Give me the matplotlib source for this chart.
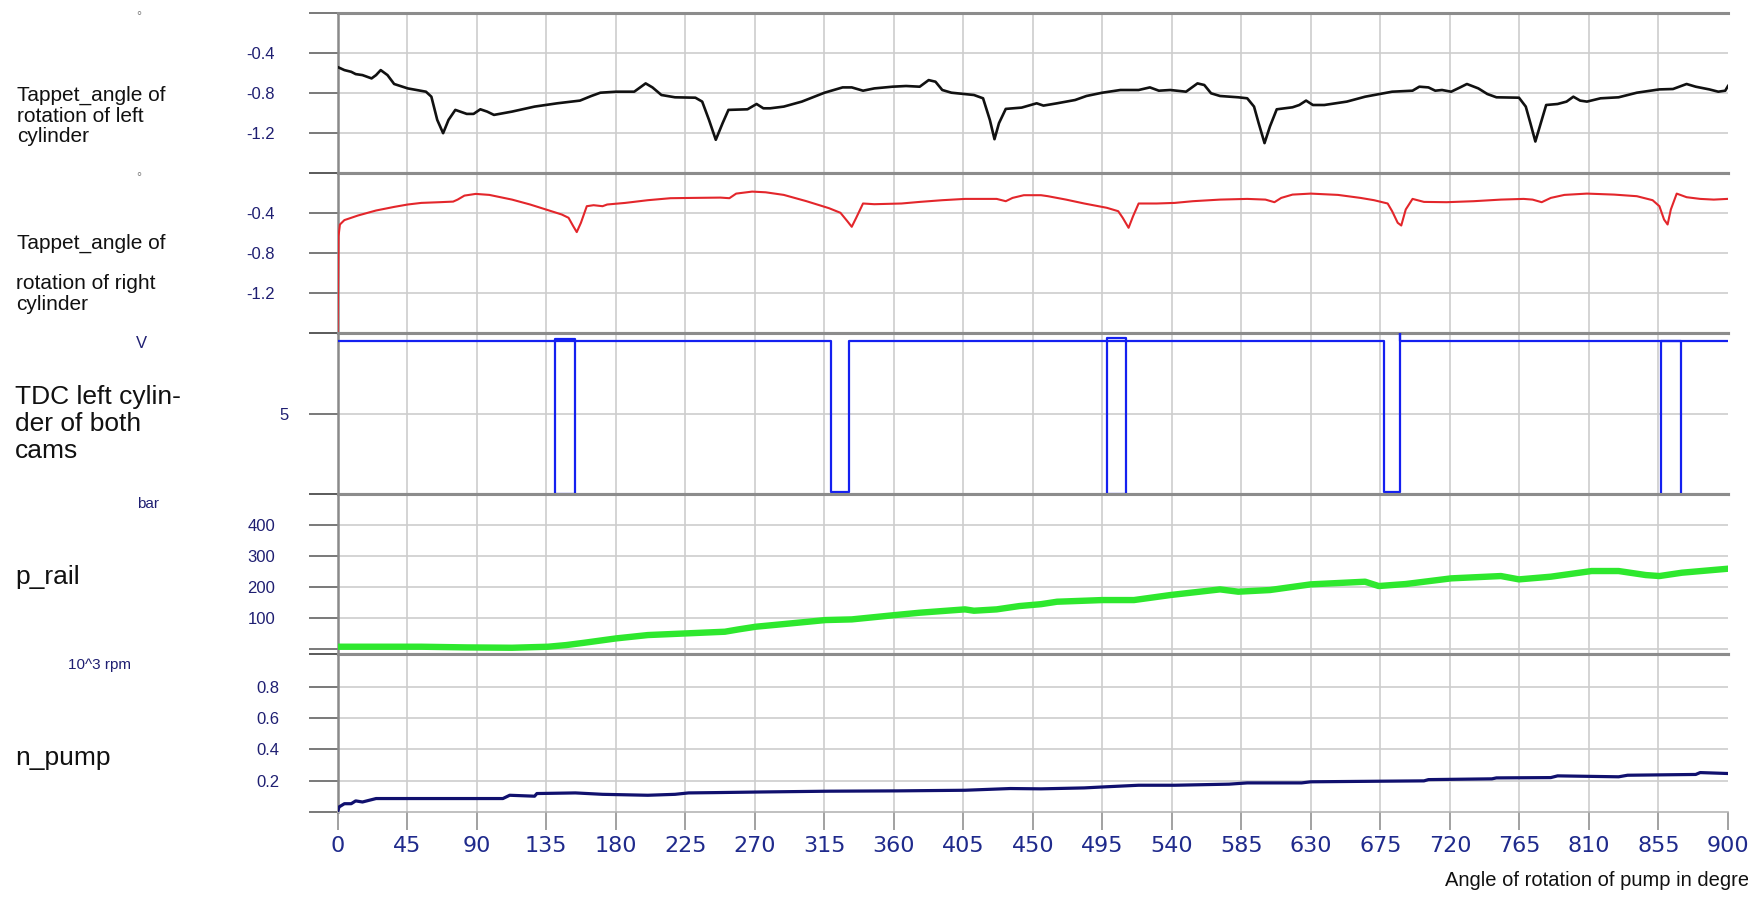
import matplotlib
matplotlib.use("Agg")
import matplotlib.pyplot as plt

plt.rcParams['font.family'] = ['Liberation Sans', 'DejaVu Sans']

# x axis (angle of rotation of pump, degrees)
x_ticks = list(range(0, 901, 45))

# Tappet angle of rotation, left cylinder (deg, value)
left_deg = [0, 4.4, 8.8, 11.7, 16.1, 22.0, 24.9, 27.9, 32.3, 36.6, 45.4, 57.2, 60.7, 64.5, 68.3,
            71.8, 76.2, 83.6, 88.0, 92.4, 96.8, 101.2, 112.9, 127.5, 142.2, 156.9, 164.2, 170.1,
            180.3, 192.0, 196.4, 199.4, 203.8, 209.6, 218.4, 231.6, 236.0, 240.4, 244.8, 249.2,
            253.0, 265.3, 271.2, 275.6, 280.0, 288.8, 300.5, 315.2, 326.9, 332.8, 340.1, 347.4,
            359.2, 368.0, 376.8, 382.6, 387.0, 391.4, 397.3, 411.9, 417.8, 422.2, 425.2, 428.1,
            432.5, 442.8, 452.5, 456.9, 465.7, 477.4, 484.7, 495.0, 506.7, 518.5, 525.8, 531.6,
            539.0, 549.2, 556.6, 561.0, 565.4, 571.2, 583.0, 588.8, 593.2, 596.2, 600.0, 603.5,
            607.9, 618.1, 622.5, 626.9, 631.3, 638.7, 653.3, 665.1, 682.6, 695.8, 700.2, 706.1,
            710.5, 714.9, 720.8, 726.6, 731.0, 738.4, 744.2, 750.1, 764.7, 769.1, 772.1, 775.3,
            778.8, 782.3, 789.7, 795.5, 799.9, 804.3, 808.7, 817.5, 829.2, 841.0, 855.6, 864.4,
            873.2, 879.1, 887.9, 893.7, 898.2, 900.0]
left_val = [-0.54, -0.571, -0.588, -0.611, -0.621, -0.654, -0.621, -0.571, -0.621, -0.710, -0.754,
            -0.787, -0.837, -1.069, -1.202, -1.069, -0.969, -1.009, -1.009, -0.963, -0.986, -1.019,
            -0.986, -0.936, -0.903, -0.876, -0.830, -0.797, -0.787, -0.787, -0.737, -0.704, -0.744,
            -0.820, -0.843, -0.847, -0.886, -1.069, -1.268, -1.102, -0.969, -0.963, -0.910, -0.953,
            -0.953, -0.936, -0.886, -0.797, -0.744, -0.744, -0.777, -0.754, -0.737, -0.730, -0.737,
            -0.671, -0.687, -0.770, -0.797, -0.820, -0.853, -1.069, -1.262, -1.102, -0.959, -0.946,
            -0.903, -0.926, -0.903, -0.870, -0.830, -0.797, -0.770, -0.770, -0.744, -0.777, -0.770,
            -0.787, -0.704, -0.720, -0.803, -0.830, -0.843, -0.853, -0.936, -1.102, -1.301, -1.135,
            -0.963, -0.943, -0.920, -0.876, -0.920, -0.920, -0.886, -0.837, -0.787, -0.777, -0.737,
            -0.744, -0.777, -0.770, -0.787, -0.744, -0.710, -0.754, -0.810, -0.843, -0.847, -0.936,
            -1.102, -1.285, -1.102, -0.920, -0.910, -0.886, -0.837, -0.876, -0.886, -0.853, -0.843,
            -0.797, -0.764, -0.760, -0.710, -0.737, -0.764, -0.787, -0.777, -0.730]

# Tappet angle of rotation, right cylinder
right_deg = [0, 0.6, 1.5, 4.4, 13.2, 24.9, 36.6, 45.4, 54.2, 66.0, 74.8, 77.7, 82.1, 89.4, 98.2,
             112.9, 124.6, 136.3, 145.1, 149.5, 152.5, 154.8, 157.5, 161.3, 165.7, 171.5, 174.5,
             186.2, 200.8, 215.5, 230.2, 247.8, 253.6, 258.0, 268.3, 277.1, 288.8, 303.5, 318.1,
             325.5, 329.9, 332.8, 335.7, 340.1, 347.4, 365.0, 376.8, 391.4, 406.1, 426.6, 432.5,
             436.9, 444.2, 455.3, 459.8, 471.5, 483.3, 497.9, 505.3, 508.2, 512.0, 514.9, 518.5,
             530.2, 541.9, 553.6, 571.2, 588.8, 600.6, 606.4, 610.8, 618.1, 629.9, 647.5, 662.1,
             670.9, 679.7, 682.6, 686.2, 688.5, 691.4, 695.8, 703.2, 717.8, 735.4, 753.0, 767.7,
             773.5, 779.4, 785.3, 794.1, 808.7, 826.3, 841.0, 851.2, 855.6, 858.6, 860.9, 863.0,
             866.8, 873.2, 882.0, 890.8, 899.6]
right_val = [-1.6, -0.631, -0.515, -0.471, -0.425, -0.375, -0.339, -0.315, -0.299, -0.292, -0.286,
             -0.266, -0.226, -0.209, -0.219, -0.266, -0.315, -0.372, -0.415, -0.448, -0.531, -0.591,
             -0.498, -0.332, -0.322, -0.332, -0.315, -0.299, -0.272, -0.252, -0.249, -0.246, -0.252,
             -0.206, -0.186, -0.193, -0.219, -0.282, -0.352, -0.398, -0.481, -0.538, -0.448, -0.305,
             -0.312, -0.305, -0.289, -0.272, -0.259, -0.259, -0.282, -0.249, -0.222, -0.222, -0.232,
             -0.266, -0.305, -0.348, -0.382, -0.448, -0.548, -0.432, -0.305, -0.305, -0.299, -0.282,
             -0.266, -0.259, -0.266, -0.292, -0.249, -0.216, -0.206, -0.219, -0.249, -0.272, -0.305,
             -0.382, -0.498, -0.525, -0.365, -0.259, -0.289, -0.292, -0.282, -0.266, -0.259, -0.266,
             -0.292, -0.249, -0.219, -0.206, -0.216, -0.232, -0.272, -0.332, -0.465, -0.515, -0.365,
             -0.206, -0.242, -0.259, -0.266, -0.259]

# TDC signal (V): square wave, high level with pulses down to 0
tdc_deg = [0, 140.8, 140.8, 153.6, 153.6, 140.8, 140.8, 153.6,
           319.5, 319.5, 331.2, 331.2,
           498.2, 498.2, 510.4, 510.4, 498.2, 498.2, 510.4,
           677.4, 677.4, 687.9, 687.9, 687.9,
           856.7, 856.7, 869.5, 869.5, 856.7, 856.7, 869.5, 900]
tdc_val = [9.5, 9.5, 0.0, 0.0, 9.65, 9.65, 9.5, 9.5,
           9.5, 0.14, 0.14, 9.5,
           9.5, 0.0, 0.0, 9.7, 9.7, 9.5, 9.5,
           9.5, 0.14, 0.14, 10.0, 9.5,
           9.5, -0.06, -0.06, 9.5, 9.5, 9.5, 9.5, 9.5]

# rail pressure (bar)
prail_deg = [0, 24.9, 54.2, 83.6, 112.9, 136.3, 148.1, 159.8, 180.3, 200.8, 225.8, 250.7, 259.5,
             270.6, 288.8, 315.8, 332.8, 360.9, 376.8, 406.1, 411.9, 426.6, 441.3, 455.3, 465.7,
             495.0, 515.5, 539.0, 571.2, 583.0, 603.5, 629.9, 665.1, 673.9, 691.4, 720.8, 753.0,
             764.7, 785.3, 811.7, 829.2, 846.8, 855.6, 870.2, 900.0]
prail_val = [6.5, 6.5, 6.5, 4.3, 3.2, 6.5, 11.9, 19.4, 33.4, 44.2, 49.6, 55.0, 62.5, 71.1, 79.7,
             92.7, 94.8, 108.8, 116.4, 127.2, 122.8, 127.2, 137.9, 144.0, 151.9, 157.3, 157.3,
             173.5, 191.8, 184.3, 189.7, 208.0, 216.6, 202.6, 209.1, 227.4, 234.9, 224.1, 232.8,
             251.1, 251.1, 238.1, 234.9, 245.7, 258.6]

# pump speed (10^3 rpm)
npump_deg = [0, 0.9, 4.4, 8.8, 11.7, 16.1, 24.9, 54.2, 107.0, 111.4, 127.5, 129.0, 153.9, 171.5,
             200.8, 218.4, 227.2, 244.8, 274.1, 318.1, 362.1, 406.1, 435.4, 455.3, 483.3, 495.0,
             518.5, 541.9, 577.1, 588.8, 624.0, 629.9, 676.8, 703.2, 706.1, 747.2, 750.1, 785.3,
             789.7, 829.2, 835.0, 879.1, 882.0, 900.0]
npump_val = [0.0, 0.032, 0.053, 0.053, 0.071, 0.064, 0.086, 0.086, 0.086, 0.107, 0.101, 0.118,
             0.122, 0.113, 0.107, 0.113, 0.122, 0.124, 0.128, 0.133, 0.135, 0.139, 0.150, 0.148,
             0.154, 0.160, 0.171, 0.171, 0.178, 0.186, 0.186, 0.193, 0.197, 0.199, 0.207, 0.212,
             0.218, 0.220, 0.231, 0.225, 0.235, 0.240, 0.252, 0.246]

panels = [
    dict(x=left_deg, y=left_val, color='#111111', lw=1.9, ylim=(-1.6, 0.0),
         ticks=[-1.2, -0.8, -0.4], labels=['-1.2', '-0.8', '-0.4'], pad=24),
    dict(x=right_deg, y=right_val, color='#e3262b', lw=1.5, ylim=(-1.6, 0.0),
         ticks=[-1.2, -0.8, -0.4], labels=['-1.2', '-0.8', '-0.4'], pad=24),
    dict(x=tdc_deg, y=tdc_val, color='#1420f0', lw=1.6, ylim=(0, 10),
         ticks=[5], labels=['5'], pad=14),
    dict(x=prail_deg, y=prail_val, color='#2ee82e', lw=4.6, ylim=(-17, 500),
         ticks=[0, 100, 200, 300, 400], labels=['', '100', '200', '300', '400'], pad=24),
    dict(x=npump_deg, y=npump_val, color='#10106e', lw=2.3, ylim=(0, 1.01),
         ticks=[0.2, 0.4, 0.6, 0.8], labels=['0.2', '0.4', '0.6', '0.8'], pad=21),
]

W, H = 1749, 899
edges = [13, 173, 333, 494, 654, 812]
x0, x1 = 337.6, 1728
navy = '#1f1f72'
grid_c = '#cdcdcd'
sep_c = '#8c8c8c'

fig = plt.figure(figsize=(W / 100, H / 100), dpi=100)
axes = []
for i, p in enumerate(panels):
    top, bot = edges[i], edges[i + 1]
    ax = fig.add_axes([x0 / W, 1 - bot / H, (x1 - x0) / W, (bot - top) / H])
    ax.set_xlim(0, 900)
    ax.set_ylim(*p['ylim'])
    for d in x_ticks[1:-1]:
        ax.axvline(d, color=grid_c, lw=1.2, zorder=0)
    for t in p['ticks']:
        ax.axhline(t, color=grid_c, lw=1.2, zorder=0)
    ax.plot(p['x'], p['y'], color=p['color'], lw=p['lw'], zorder=3, solid_joinstyle='round')
    lo, hi = p['ylim']
    ax.set_yticks([lo] + p['ticks'] + [hi])
    ax.set_yticklabels([''] + p['labels'] + [''])
    ax.tick_params(axis='y', direction='out', length=21, width=1.1, color='#555555',
                   pad=p['pad'], labelsize=12, labelcolor=navy)
    for s in ['top', 'bottom']:
        ax.spines[s].set_color(sep_c)
        ax.spines[s].set_linewidth(2.2)
    ax.spines['right'].set_visible(False)
    ax.spines['left'].set_color('#8a8a8a')
    ax.spines['left'].set_linewidth(1.8)
    ax.set_xticks(x_ticks)
    if i < len(panels) - 1:
        ax.tick_params(axis='x', length=0, labelbottom=False)
    else:
        ax.spines['bottom'].set_color('#b5b5b5')
        ax.spines['bottom'].set_linewidth(1.2)
        ax.set_xticklabels([str(t) for t in x_ticks])
        ax.tick_params(axis='x', direction='out', length=13, width=1.1, color='#888888',
                       pad=4, labelsize=16, labelcolor='#1f2a8c')
        for lab in ax.get_xticklabels():
            lab.set_family('DejaVu Sans')
    axes.append(ax)


def ftext(px, py, s, **kw):
    fig.text(px / W, 1 - py / H, s, **kw)


lab = dict(color='#111111', ha='left', va='center')
ftext(17, 116, 'Tappet_angle of\nrotation of left\ncylinder', fontsize=15, linespacing=1.08, **lab)
ftext(17, 243, 'Tappet_angle of', fontsize=15, **lab)
ftext(16, 294, 'rotation of right\ncylinder', fontsize=15, linespacing=1.08, **lab)
ftext(15, 424, 'TDC left cylin-\nder of both\ncams', fontsize=19, linespacing=1.18, **lab)
ftext(15, 577, 'p_rail', fontsize=19, **lab)
ftext(15, 758, 'n_pump', fontsize=19, **lab)

unit = dict(color=navy, ha='center', va='center')
ftext(139, 17, '°', fontsize=9, color='#777777', ha='center', va='center')
ftext(139, 178, '°', fontsize=9, color='#777777', ha='center', va='center')
ftext(141, 343, 'V', fontsize=12, **unit)
ftext(148, 504, 'bar', fontsize=11, **unit)
ftext(100, 665, '10^3 rpm', fontsize=11, **unit)

fig.text(1.0, 1 - 880 / H, 'Angle of rotation of pump in degre', fontsize=14.5,
         color='#111111', ha='right', va='center')

fig.savefig('out.png', dpi=100)
